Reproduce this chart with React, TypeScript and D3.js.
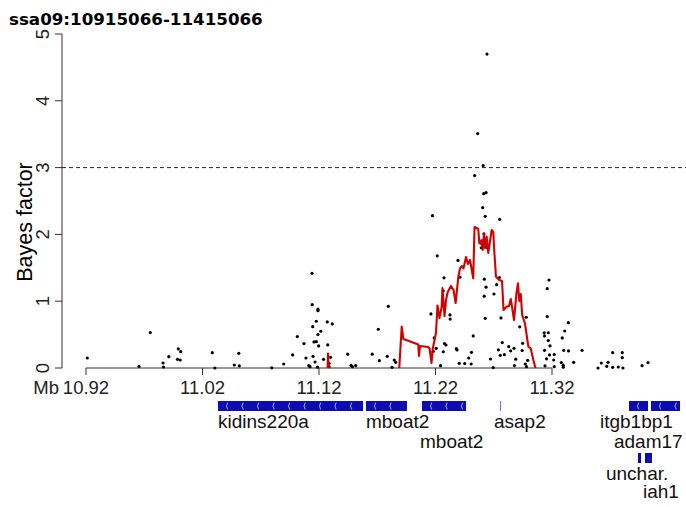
import React from "react";
import * as d3 from "d3";

const title = "ssa09:10915066-11415066";
const xTicks = [10.92, 11.02, 11.12, 11.22, 11.32];
const yTicks = [0, 1, 2, 3, 4, 5];
const threshold = 3;

const pointMb = [
  10.9211, 10.9655, 10.9752, 10.9861, 10.9865, 10.9911, 10.9992, 11.0013, 10.9985, 11.0009, 11.0284, 11.0306, 11.0473, 11.0516, 11.0511, 11.0795, 11.0897, 11.0974, 11.1014, 11.1071, 11.1088, 11.1112, 11.1123, 11.114, 11.1142, 11.1191, 11.1191, 11.1177, 11.1146, 11.1215, 11.1191, 11.1157, 11.1177, 11.1197, 11.1149, 11.1166, 11.1187, 11.1271, 11.1314, 11.1275, 11.1239, 11.1299, 11.1286, 11.1286, 11.1446, 11.1475, 11.1486, 11.1515,
  11.1657, 11.1709, 11.1718, 11.1786, 11.1795, 11.1846, 11.1858, 11.1827, 11.2174, 11.2215, 11.2393, 11.241, 11.2273, 11.2266, 11.228, 11.2161, 11.2324, 11.2326, 11.2189, 11.2206, 11.2277, 11.229, 11.2181, 11.2267, 11.2379, 11.2385, 11.2243, 11.2404, 11.2451, 11.2485, 11.2509, 11.2506, 11.2524, 11.2536, 11.2562, 11.2609, 11.2642, 11.2614, 11.2634, 11.2605, 11.2627, 11.2751, 11.2616, 11.2588, 11.2593, 11.2642, 11.2619, 11.2634, 11.2749, 11.2725, 11.2618, 11.2702, 11.2627, 11.2762, 11.2979, 11.2923, 11.2773, 11.274, 11.2756, 11.2791, 11.2828, 11.2845, 11.2874, 11.2948, 11.2944, 11.2889, 11.2878, 11.2672, 11.2695, 11.2971, 11.2981, 11.2991,
  11.3174, 11.3159, 11.3159, 11.3133, 11.3168, 11.3136, 11.3168, 11.3183, 11.3136, 11.3179, 11.3219, 11.3153, 11.3215, 11.314, 11.3219, 11.334, 11.3309, 11.3288, 11.33, 11.3342, 11.3458, 11.328, 11.3296, 11.3297, 11.3386, 11.3721, 11.3803, 11.3803, 11.3623, 11.3681, 11.367, 11.3721, 11.3769, 11.3595, 11.3809, 11.3973, 11.4024,
];
const pointBF = [
  0.15, 0.025, 0.53, 0.075, 0.015, 0.17, 0.285, 0.245, 0.13, 0.12, 0.23, 0.0, 0.045, 0.033, 0.22, 0.003, 0.06, 0.195, 0.47, 0.365, 0.15, 0.037, 0.02, 1.418, 0.948, 0.88, 0.858, 0.7, 0.618, 0.55, 0.5, 0.39, 0.394, 0.33, 0.175, 0.09, 0.012, 0.69, 0.66, 0.345, 0.13, 0.16, 0.07, 0.02, 0.207, 0.04, 0.02, 0.037,
  0.207, 0.58, 0.11, 0.175, 0.924, 0.12, 0.085, 0.01, 2.28, 1.68, 1.61, 1.36, 1.35, 1.155, 0.93, 0.81, 0.795, 0.733, 0.45, 0.295, 0.367, 0.344, 0.25, 0.243, 0.29, 0.27, 0.035, 0.07, 0.067, 0.15, 0.235, 0.06, 0.48, 2.88, 3.51, 3.03, 4.7, 2.61, 2.625, 2.4, 2.27, 2.226, 2.01, 1.87, 1.8, 1.807, 1.33, 1.21, 1.355, 1.247, 1.075, 1.108, 0.744, 0.75, 0.76, 0.617, 0.38, 0.272, 0.19, 0.2, 0.32, 0.257, 0.295, 0.37, 0.262, 0.132, 0.037, 0.135, 0.007, 0.06, 0.02, 0.115,
  1.317, 1.187, 0.77, 0.528, 0.528, 0.48, 0.41, 0.332, 0.265, 0.195, 0.202, 0.138, 0.12, 0.033, 0.02, 0.678, 0.554, 0.45, 0.265, 0.255, 0.265, 0.082, 0.042, 0.012, 0.085, 0.229, 0.229, 0.154, 0.075, 0.085, 0.025, 0.01, 0.015, 0.0, 0.0, 0.035, 0.08,
];

// smoothed curve (NaN = gap)
const lineMb = [
  11.1274, 11.1277, 11.1282, NaN,
  11.1889, 11.191, 11.1924, 11.2052, 11.2058, 11.2067, 11.2138, 11.2149, 11.2166, 11.2176, 11.2204, 11.2217, 11.2234, 11.2253, 11.226, 11.2277, 11.229, 11.2305, 11.2333, 11.2355, 11.2373, 11.2396, 11.241, 11.2427, 11.244, 11.2462, 11.2479, 11.2496, 11.2524, 11.2535, 11.2567, 11.2576, 11.2595, 11.2605, 11.2616, 11.2625, 11.2639, 11.2653, 11.2668, 11.2682, 11.2696, 11.2704, 11.2719, 11.2748, 11.2771, 11.2784, 11.2811, 11.2831, 11.2846, 11.2861, 11.2874, 11.2895, 11.2908, 11.2919, 11.2932, 11.2944, 11.2968, 11.2997, 11.3017, 11.304, 11.3058,
];
const lineBF = [
  0, 0.217, 0, NaN,
  0, 0.621, 0.434, 0.352, 0.18, 0.329, 0.314, 0.292, 0.075, 0.284, 0.524, 0.936, 0.749, 0.913, 1.198, 0.778, 1.018, 1.138, 1.228, 1.168, 0.973, 1.367, 1.49, 1.527, 1.49, 1.662, 1.557, 1.617, 1.343, 2.111, 2.081, 1.867, 1.916, 1.766, 2.006, 1.796, 1.966, 1.722, 1.901, 2.066, 2.036, 1.766, 1.367, 1.317, 1.302, 0.868, 0.918, 0.928, 1.033, 0.868, 0.719, 1.123, 1.268, 1.003, 1.108, 0.793, 0.666, 0.319, 0.295, 0.12, 0,
];

const geneName = ["kidins220a", "mboat2", "mboat2", "asap2", "itgb1bp1", "adam17", "unchar.", "iah1"];
const geneStart = [11.0333, 11.1603, 11.2084, 11.2754, 11.3861, 11.405, 11.3938, 11.3998];
const geneEnd = [11.1578, 11.1955, 11.2462, 11.2762, 11.4024, 11.4299, 11.3964, 11.4058];
const geneRow = [0, 0, 0, 0, 0, 0, 1, 1];
const labelRow = [0, 0, 1, 0, 0, 1, 2, 3];
const labelMb = [11.0333, 11.1603, 11.2067, 11.2702, 11.3612, 11.3732, 11.3663, 11.3981];

export default function App() {
  const W = 686, H = 507;
  const x = d3.scaleLinear().domain([10.92, 11.32]).range([86, 552]);
  const y = d3.scaleLinear().domain([0, 5]).range([368, 34]);
  const axisX = 62;
  const sans = "'Liberation Sans', Arial, sans-serif";

  const linePts = lineMb.map((m, i) => [m, lineBF[i]] as [number, number]);
  const lineGen = d3
    .line<[number, number]>()
    .defined((d) => !isNaN(d[0]) && !isNaN(d[1]))
    .x((d) => x(d[0]))
    .y((d) => y(d[1]));

  const rowTop = [401, 453];
  const blockH = 10;
  const labelBase = [428, 448, 480, 498];

  const chevrons: JSX.Element[] = [];
  geneName.forEach((g, i) => {
    const x0 = x(geneStart[i]);
    const x1 = x(geneEnd[i]);
    if (x1 - x0 < 12) return;
    const cy = rowTop[geneRow[i]] + blockH / 2;
    for (let cx = x0 + 8.5; cx < x1 - 2; cx += 15.5) {
      chevrons.push(
        <path
          key={`c${i}-${cx}`}
          d={`M${cx + 1.2},${cy - 3.5} Q${cx - 1.2},${cy} ${cx + 1.2},${cy + 3.5}`}
          fill="none"
          stroke="#b8b8ff"
          strokeWidth={0.9}
        />
      );
    }
  });

  return (
    <svg
      width={W}
      height={H}
      style={{ position: "absolute", left: 0, top: 0, background: "#fff" }}
    >
      <text x={9} y={25} fontFamily="'DejaVu Sans', Verdana, sans-serif" fontWeight="bold" fontSize={16.7} fill="#000">
        {title}
      </text>

      {/* y axis */}
      <line x1={axisX} x2={axisX} y1={y(5)} y2={y(0)} stroke="#333" strokeWidth={1} />
      {yTicks.map((t) => (
        <g key={`yt${t}`}>
          <line x1={axisX - 7} x2={axisX} y1={y(t)} y2={y(t)} stroke="#333" />
          <text
            transform={`translate(49,${y(t)}) rotate(-90)`}
            textAnchor="middle"
            fontFamily={sans}
            fontSize={18.5}
            fill="#222"
          >
            {t}
          </text>
        </g>
      ))}
      <text
        transform={`translate(32,${(y(5) + y(0)) / 2 + 21}) rotate(-90)`}
        textAnchor="middle"
        fontFamily={sans}
        fontSize={21.5}
        fill="#000"
      >
        Bayes factor
      </text>

      {/* threshold */}
      <line x1={axisX} x2={W} y1={y(threshold)} y2={y(threshold)} stroke="#222" strokeDasharray="4,3" strokeWidth={1} />

      {/* x axis */}
      <line x1={x(xTicks[0])} x2={x(xTicks[xTicks.length - 1])} y1={y(0)} y2={y(0)} stroke="#333" />
      {xTicks.map((t) => (
        <g key={`xt${t}`}>
          <line x1={x(t)} x2={x(t)} y1={y(0)} y2={y(0) + 7} stroke="#333" />
          <text x={x(t)} y={394} textAnchor="middle" fontFamily={sans} fontSize={18.5} fill="#222">
            {t.toFixed(2)}
          </text>
        </g>
      ))}
      <text x={59} y={394} textAnchor="end" fontFamily={sans} fontSize={18.5} fill="#222">
        Mb
      </text>

      {/* points */}
      {pointMb.map((m, i) => (
        <circle key={`p${i}`} cx={x(m)} cy={y(pointBF[i])} r={1.6} fill="#000" />
      ))}

      {/* curve */}
      <path d={lineGen(linePts) || ""} fill="none" stroke="#d40000" strokeWidth={2.1} strokeLinejoin="round" />

      {/* genes */}
      {geneName.map((g, i) => {
        const x0 = x(geneStart[i]);
        const x1 = x(geneEnd[i]);
        const thin = x1 - x0 < 3;
        return (
          <rect
            key={`g${i}`}
            x={x0}
            y={rowTop[geneRow[i]]}
            width={Math.max(1, x1 - x0)}
            height={blockH}
            fill={thin ? "#7070e8" : "#0c0cb0"}
          />
        );
      })}
      {chevrons}
      {geneName.map((g, i) => (
        <text
          key={`gl${i}`}
          x={x(labelMb[i])}
          y={labelBase[labelRow[i]]}
          fontFamily={sans}
          fontSize={19}
          fill="#111"
        >
          {g}
        </text>
      ))}
    </svg>
  );
}
